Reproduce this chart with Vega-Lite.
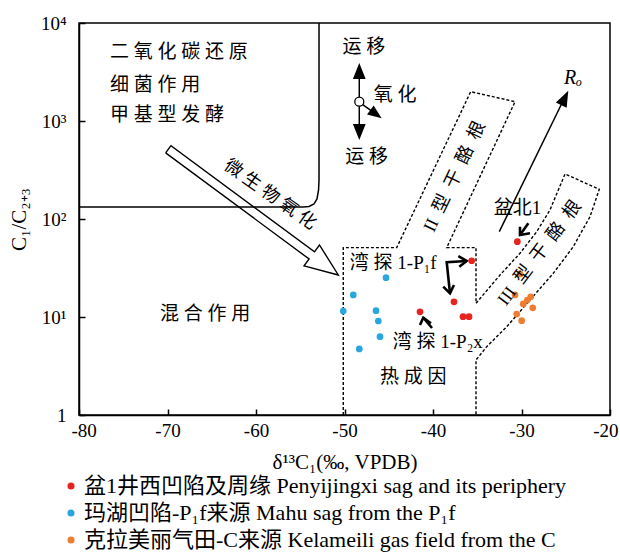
{
  "$schema": "https://vega.github.io/schema/vega-lite/v6.json",
  "width": 531,
  "height": 392,
  "autosize": {"type": "none"},
  "padding": {"left": 79, "top": 23, "right": 10, "bottom": 137},
  "background": "white",
  "config": {
    "view": {"stroke": "black", "strokeWidth": 1.5},
    "font": "Liberation Serif, Noto Sans CJK SC",
    "legend": {
      "orient": "none", "legendX": -19, "legendY": 452, "direction": "vertical",
      "labelFont": "Liberation Serif, Noto Sans CJK SC", "labelFontSize": 22, "labelColor": "black",
      "symbolType": "circle", "symbolSize": 50, "symbolStrokeWidth": 0, "symbolOpacity": 1,
      "rowPadding": 5, "labelOffset": 2, "padding": 0, "labelLimit": 700
    }
  },
  "datasets": {
    "bio": [
      {"ord": 1, "x": -52.88, "y": 10000},
      {"ord": 2, "x": -52.88, "y": 250},
      {"ord": 3, "x": -52.93, "y": 197.7},
      {"ord": 4, "x": -53.11, "y": 160},
      {"ord": 5, "x": -53.45, "y": 142.2},
      {"ord": 6, "x": -54.01, "y": 134.2},
      {"ord": 7, "x": -54.69, "y": 132.5},
      {"ord": 8, "x": -80, "y": 132.5}
    ],
    "dash": [
      {"ord": 1, "x": -50.14, "y": 1},
      {"ord": 2, "x": -50.14, "y": 51},
      {"ord": 3, "x": -44.10, "y": 51},
      {"ord": 4, "x": -35.74, "y": 1991},
      {"ord": 5, "x": -30.73, "y": 1574},
      {"ord": 6, "x": -38.45, "y": 51},
      {"ord": 7, "x": -35.14, "y": 51},
      {"ord": 8, "x": -35.14, "y": 13.8},
      {"ord": 9, "x": -32.43, "y": 26.8},
      {"ord": 10, "x": -30.17, "y": 44.7},
      {"ord": 11, "x": -28.28, "y": 74.2},
      {"ord": 12, "x": -26.78, "y": 123.6},
      {"ord": 13, "x": -25.84, "y": 197.7},
      {"ord": 14, "x": -25.08, "y": 288},
      {"ord": 15, "x": -21.21, "y": 201},
      {"ord": 16, "x": -22.26, "y": 105.6},
      {"ord": 17, "x": -24.15, "y": 52.2},
      {"ord": 18, "x": -26.41, "y": 27.9},
      {"ord": 19, "x": -29.04, "y": 14.9},
      {"ord": 20, "x": -31.67, "y": 7.96},
      {"ord": 21, "x": -33.93, "y": 4.98},
      {"ord": 22, "x": -35.14, "y": 3.64},
      {"ord": 23, "x": -35.14, "y": 1}
    ],
    "hollow": [
      {"ord": 1, "x": -70.21, "y": 472.6},
      {"ord": 2, "x": -54.00, "y": 39.07},
      {"ord": 3, "x": -54.57, "y": 33.22},
      {"ord": 4, "x": -50.70, "y": 26.83},
      {"ord": 5, "x": -52.83, "y": 54.29},
      {"ord": 6, "x": -53.39, "y": 46.27},
      {"ord": 7, "x": -69.61, "y": 559.7},
      {"ord": 8, "x": -70.21, "y": 472.6}
    ],
    "thin": [
      {"id": "mig", "ord": 1, "x": -48.33, "y": 3475},
      {"id": "mig", "ord": 2, "x": -48.33, "y": 719},
      {"id": "oxi", "ord": 1, "x": -48.02, "y": 1490},
      {"id": "oxi", "ord": 2, "x": -46.44, "y": 1173},
      {"id": "ro", "ord": 1, "x": -32.51, "y": 74.2},
      {"id": "ro", "ord": 2, "x": -25.31, "y": 1600}
    ],
    "chev": [
      {"id": "a1", "ord": 1, "x": -30.17, "y": 83.4},
      {"id": "a1", "ord": 2, "x": -30.17, "y": 68.7},
      {"id": "a1", "ord": 3, "x": -29.04, "y": 71.5},
      {"id": "a1s", "ord": 1, "x": -30.17, "y": 68.7},
      {"id": "a1s", "ord": 2, "x": -29.23, "y": 90.4},
      {"id": "b", "ord": 1, "x": -36.19, "y": 37.3},
      {"id": "b", "ord": 2, "x": -38.45, "y": 36.3},
      {"id": "b", "ord": 3, "x": -38.08, "y": 17.45},
      {"id": "b1", "ord": 1, "x": -37.14, "y": 41.9},
      {"id": "b1", "ord": 2, "x": -36.19, "y": 37.3},
      {"id": "b1", "ord": 3, "x": -37.03, "y": 32.6},
      {"id": "b2", "ord": 1, "x": -38.84, "y": 20.4},
      {"id": "b2", "ord": 2, "x": -38.08, "y": 17.45},
      {"id": "b2", "ord": 3, "x": -37.63, "y": 21.2},
      {"id": "c", "ord": 1, "x": -41.47, "y": 8.29},
      {"id": "c", "ord": 2, "x": -41.10, "y": 9.84},
      {"id": "c", "ord": 3, "x": -40.23, "y": 8.62},
      {"id": "cs", "ord": 1, "x": -41.10, "y": 9.84},
      {"id": "cs", "ord": 2, "x": -40.11, "y": 7.72}
    ],
    "heads": [
      {"name": "up", "x": -48.33, "y": 3236},
      {"name": "down", "x": -48.33, "y": 772},
      {"name": "oxi", "x": -46.44, "y": 1173},
      {"name": "ro", "x": -25.11, "y": 1720}
    ],
    "ring": [{"x": -48.33, "y": 1574}],
    "points": [
      {"group": "盆1井西凹陷及周缘 Penyijingxi sag and its periphery", "x": -30.47, "y": 58.7},
      {"group": "盆1井西凹陷及周缘 Penyijingxi sag and its periphery", "x": -35.63, "y": 37.5},
      {"group": "盆1井西凹陷及周缘 Penyijingxi sag and its periphery", "x": -37.63, "y": 14.3},
      {"group": "盆1井西凹陷及周缘 Penyijingxi sag and its periphery", "x": -41.47, "y": 11.3},
      {"group": "盆1井西凹陷及周缘 Penyijingxi sag and its periphery", "x": -36.61, "y": 10.07},
      {"group": "盆1井西凹陷及周缘 Penyijingxi sag and its periphery", "x": -35.93, "y": 10.07},
      {"group": "玛湖凹陷-P₁f来源 Mahu sag from the P₁f", "x": -45.31, "y": 25.2},
      {"group": "玛湖凹陷-P₁f来源 Mahu sag from the P₁f", "x": -49.01, "y": 16.8},
      {"group": "玛湖凹陷-P₁f来源 Mahu sag from the P₁f", "x": -50.14, "y": 11.5},
      {"group": "玛湖凹陷-P₁f来源 Mahu sag from the P₁f", "x": -46.44, "y": 11.6},
      {"group": "玛湖凹陷-P₁f来源 Mahu sag from the P₁f", "x": -46.18, "y": 9.1},
      {"group": "玛湖凹陷-P₁f来源 Mahu sag from the P₁f", "x": -45.99, "y": 6.3},
      {"group": "玛湖凹陷-P₁f来源 Mahu sag from the P₁f", "x": -48.33, "y": 4.72},
      {"group": "克拉美丽气田-C来源 Kelameili gas field  from  the  C", "x": -30.17, "y": 27.5},
      {"group": "克拉美丽气田-C来源 Kelameili gas field  from  the  C", "x": -30.73, "y": 16.8},
      {"group": "克拉美丽气田-C来源 Kelameili gas field  from  the  C", "x": -28.96, "y": 16.1},
      {"group": "克拉美丽气田-C来源 Kelameili gas field  from  the  C", "x": -29.34, "y": 14.9},
      {"group": "克拉美丽气田-C来源 Kelameili gas field  from  the  C", "x": -29.80, "y": 13.6},
      {"group": "克拉美丽气田-C来源 Kelameili gas field  from  the  C", "x": -28.73, "y": 12.4},
      {"group": "克拉美丽气田-C来源 Kelameili gas field  from  the  C", "x": -30.54, "y": 10.7},
      {"group": "克拉美丽气田-C来源 Kelameili gas field  from  the  C", "x": -29.98, "y": 9.17}
    ],
    "labels": [
      {"x": -65.76, "y": 10.66, "text": "混 合 作 用"},
      {"x": -42.23, "y": 2.46, "text": "热 成 因"},
      {"x": -47.80, "y": 5730, "text": "运 移"},
      {"x": -44.29, "y": 1842, "text": "氧 化"},
      {"x": -47.49, "y": 432, "text": "运 移"},
      {"x": -30.45, "y": 128.6, "text": "盆北1"},
      {"x": -44.49, "y": 35.3, "text": "湾 探 1-P₁f"},
      {"x": -39.46, "y": 5.52, "text": "湾 探 1-P₂x"}
    ],
    "biotext": [
      {"x": -76.5, "y": 5094, "text": "二 氧 化 碳 还 原"},
      {"x": -76.5, "y": 2330, "text": "细 菌 作 用"},
      {"x": -76.5, "y": 1151, "text": "甲 基 型 发 酵"}
    ],
    "micro": [{"x": -58.42, "y": 175.8, "text": "微 生 物 氧 化"}],
    "band2": [{"x": -37.51, "y": 270, "text": "II\u2002型\u2002干\u2002酪\u2002根"}],
    "band3": [{"x": -27.91, "y": 44.7, "text": "III\u2002型\u2002干\u2002酪\u2002根"}],
    "ro": [{"x": -24.18, "y": 2748, "text": "Rₒ"}]
  },
  "encoding": {
    "x": {
      "field": "x", "type": "quantitative",
      "scale": {"domain": [-80, -20], "nice": false, "zero": false},
      "axis": {
        "title": "δ¹³C₁(‰, VPDB)", "values": [-80, -70, -60, -50, -40, -30, -20], "grid": false,
        "labelExpr": "replace(datum.label, '−', '-')",
        "tickSize": -6, "tickColor": "black", "tickWidth": 1.5,
        "domainColor": "black", "domainWidth": 1.5,
        "labelFont": "Liberation Serif", "labelFontSize": 19, "labelColor": "black", "labelPadding": 12,
        "labelFlush": true, "labelFlushOffset": 8,
        "titleFont": "Liberation Serif", "titleFontSize": 21, "titleFontWeight": "normal", "titleColor": "black",
        "titleY": 47, "titleBaseline": "middle"
      }
    },
    "y": {
      "field": "y", "type": "quantitative",
      "scale": {"type": "log", "domain": [1, 10000], "nice": false},
      "axis": {
        "title": "C₁/C₂₊₃", "values": [1, 10, 100, 1000, 10000], "grid": false,
        "labelExpr": "datum.value == 1 ? '1' : datum.value == 10 ? '10¹' : datum.value == 100 ? '10²' : datum.value == 1000 ? '10³' : '10⁴'",
        "tickSize": -6, "tickColor": "black", "tickWidth": 1.5,
        "domainColor": "black", "domainWidth": 1.5,
        "labelFont": "Liberation Serif", "labelFontSize": 19, "labelColor": "black", "labelPadding": 19, "labelFlush": false,
        "titleFont": "Liberation Serif", "titleFontSize": 21, "titleFontWeight": "normal", "titleColor": "black",
        "titleX": -60, "titleY": 196, "titleBaseline": "middle", "titleAngle": -90, "titleAlign": "center"
      }
    }
  },
  "layer": [
    {"data": {"name": "bio"}, "mark": {"type": "line", "color": "black", "strokeWidth": 1.5}, "encoding": {"order": {"field": "ord", "type": "quantitative"}}},
    {"data": {"name": "dash"}, "mark": {"type": "line", "color": "black", "strokeWidth": 1.4, "strokeDash": [3, 2]}, "encoding": {"order": {"field": "ord", "type": "quantitative"}}},
    {"data": {"name": "hollow"}, "mark": {"type": "line", "color": "black", "strokeWidth": 1.4}, "encoding": {"order": {"field": "ord", "type": "quantitative"}}},
    {"data": {"name": "thin"}, "mark": {"type": "line", "color": "black", "strokeWidth": 1.5}, "encoding": {"order": {"field": "ord", "type": "quantitative"}, "detail": {"field": "id"}}},
    {"data": {"name": "chev"}, "mark": {"type": "line", "color": "black", "strokeWidth": 2.6}, "encoding": {"order": {"field": "ord", "type": "quantitative"}, "detail": {"field": "id"}}},
    {"data": {"name": "heads"}, "transform": [{"filter": "datum.name == 'up'"}], "mark": {"type": "point", "shape": "M0,-1L0.8,1L-0.8,1Z", "filled": true, "color": "black", "opacity": 1, "size": 256, "angle": 0}},
    {"data": {"name": "heads"}, "transform": [{"filter": "datum.name == 'down'"}], "mark": {"type": "point", "shape": "M0,-1L0.8,1L-0.8,1Z", "filled": true, "color": "black", "opacity": 1, "size": 256, "angle": 180}},
    {"data": {"name": "heads"}, "transform": [{"filter": "datum.name == 'oxi'"}], "mark": {"type": "point", "shape": "M0,-1L0.8,1L-0.8,1Z", "filled": true, "color": "black", "opacity": 1, "size": 196, "angle": 126}},
    {"data": {"name": "heads"}, "transform": [{"filter": "datum.name == 'ro'"}], "mark": {"type": "point", "shape": "M0,-1L0.75,1L-0.75,1Z", "filled": true, "color": "black", "opacity": 1, "size": 256, "angle": 26}},
    {"data": {"name": "ring"}, "mark": {"type": "point", "shape": "circle", "filled": true, "fill": "white", "stroke": "black", "strokeWidth": 1.3, "opacity": 1, "size": 81}},
    {"data": {"name": "points"}, "mark": {"type": "point", "shape": "circle", "filled": true, "opacity": 1, "size": 45},
     "encoding": {"color": {"field": "group", "type": "nominal", "title": null,
       "scale": {"domain": ["盆1井西凹陷及周缘 Penyijingxi sag and its periphery", "玛湖凹陷-P₁f来源 Mahu sag from the P₁f", "克拉美丽气田-C来源 Kelameili gas field  from  the  C"],
                 "range": ["#e8231f", "#2aa6df", "#ef7d31"]}}}},
    {"data": {"name": "labels"}, "mark": {"type": "text", "font": "Liberation Serif, Noto Sans CJK SC", "fontSize": 19, "color": "black", "align": "center", "baseline": "middle"}, "encoding": {"text": {"field": "text"}}},
    {"data": {"name": "biotext"}, "mark": {"type": "text", "font": "Liberation Serif, Noto Sans CJK SC", "fontSize": 19, "color": "black", "align": "left", "baseline": "middle"}, "encoding": {"text": {"field": "text"}}},
    {"data": {"name": "micro"}, "mark": {"type": "text", "font": "Liberation Serif, Noto Sans CJK SC", "fontSize": 18, "color": "black", "align": "center", "baseline": "middle", "angle": 35}, "encoding": {"text": {"field": "text"}}},
    {"data": {"name": "band2"}, "mark": {"type": "text", "font": "Liberation Serif, Noto Sans CJK SC", "fontSize": 18, "color": "black", "align": "center", "baseline": "middle", "angle": -64.5}, "encoding": {"text": {"field": "text"}}},
    {"data": {"name": "band3"}, "mark": {"type": "text", "font": "Liberation Serif, Noto Sans CJK SC", "fontSize": 18, "color": "black", "align": "center", "baseline": "middle", "angle": -53}, "encoding": {"text": {"field": "text"}}},
    {"data": {"name": "ro"}, "mark": {"type": "text", "font": "Liberation Serif", "fontSize": 20, "fontStyle": "italic", "color": "black", "align": "center", "baseline": "middle"}, "encoding": {"text": {"field": "text"}}}
  ]
}
